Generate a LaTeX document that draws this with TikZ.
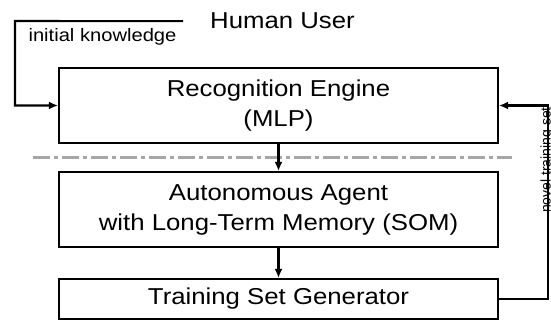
\documentclass[tikz,border=0pt]{standalone}
\usepackage{fontspec}
\setmainfont{Liberation Sans}[FakeStretch=1.12]
\newfontfamily\plainfont{Liberation Sans}
\usetikzlibrary{arrows.meta}
\begin{document}
\begin{tikzpicture}[x=1pt,y=-1pt,
  blockbox/.style={draw,line width=2.1pt,minimum width=439pt,inner sep=0pt,align=center,
    font=\fontsize{23}{30}\selectfont},
  conn/.style={line width=2.1pt,-{Latex[length=9pt,width=8pt]}},
  sepline/.style={line width=3pt,color=black!35,dash pattern=on 17pt off 4pt on 4pt off 4pt}]
\clip (0,0) rectangle (551,323);
\fill[white] (0,0) rectangle (551,323);
\draw[sepline] (33,158) -- (512,158);
\node[blockbox,minimum height=75pt] (rec) at (278.5,105.5) {Recognition Engine\\(MLP)};
\node[blockbox,minimum height=75pt] (auto) at (278.5,209.5) {Autonomous Agent\\with Long-Term Memory (SOM)};
\node[blockbox,minimum height=40pt] (tsg) at (278.5,299) {Training Set Generator};
\node[anchor=base west,inner xsep=27pt,inner ysep=0pt,font=\fontsize{23}{28}\selectfont] (hu) at (183,29) {Human User};
\node[anchor=base,inner sep=0pt,font=\fontsize{18}{22}\selectfont] (ik) at (102.5,42) {initial knowledge};
\node[anchor=base,rotate=90,inner sep=0pt,font=\plainfont\fontsize{14}{17}\selectfont] (nts) at (550.5,160) {novel training set};
\coordinate (ikc) at (15,21);
\coordinate (fbc) at (548,299);
\draw[conn] (hu.west) -- (ikc) |- (rec.west);
\draw[conn] (rec.south) -- (auto.north);
\draw[conn] (auto.south) -- (tsg.north);
\draw[conn] (tsg.east) -- (fbc) |- (rec.east);
\end{tikzpicture}
\end{document}
